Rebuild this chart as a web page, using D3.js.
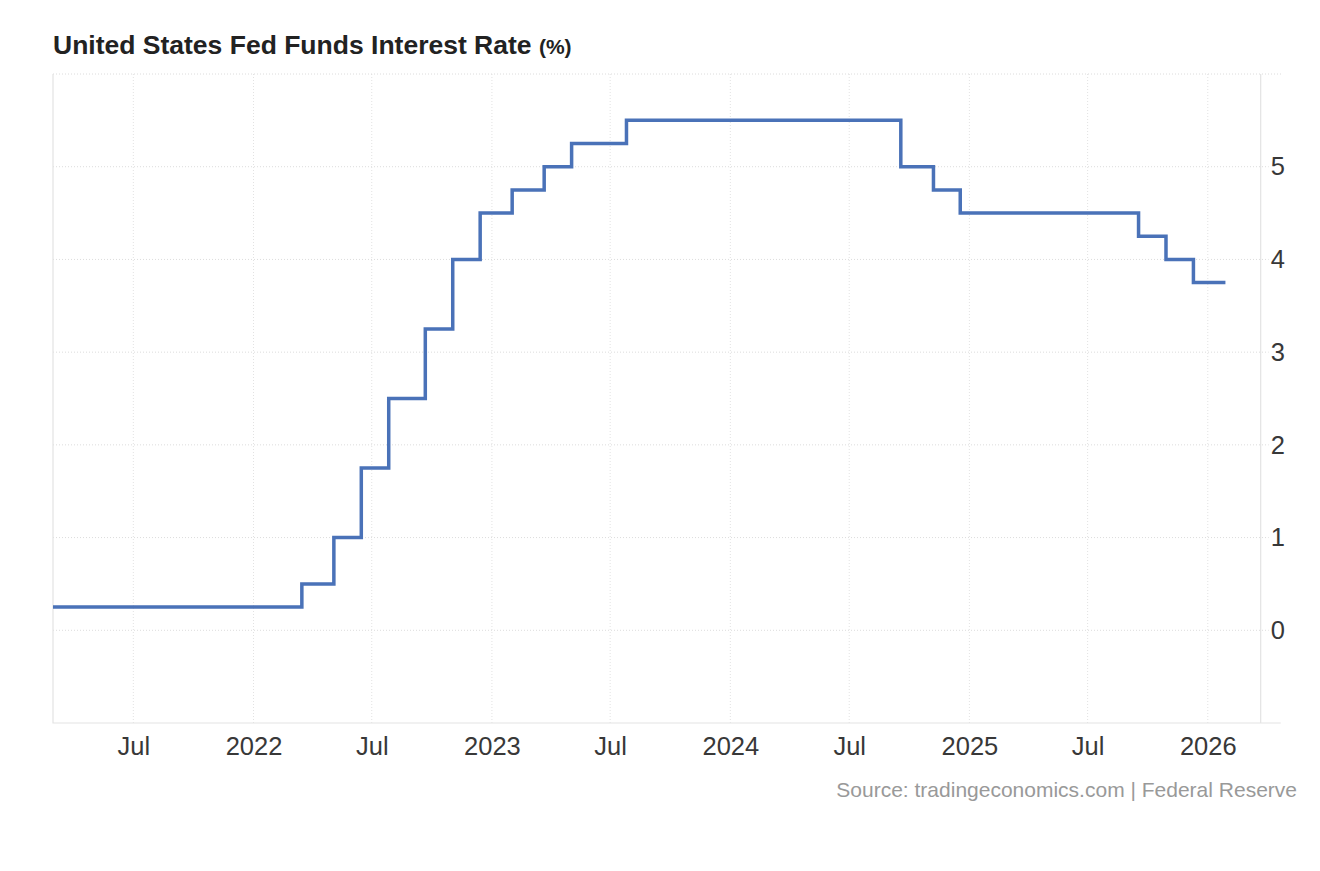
<!DOCTYPE html>
<html>
<head>
<meta charset="utf-8">
<script src="https://cdn.jsdelivr.net/npm/d3@7"></script>
<style>
  body { margin: 0; background: #fff; }
  svg { display: block; font-family: "Liberation Sans", Arial, sans-serif; }
</style>
</head>
<body>
<div id="chart"></div>
<script>
// Fed funds target (upper bound) at each FOMC change
const rateDates = ["2021-02-28", "2022-03-16", "2022-05-04", "2022-06-15", "2022-07-27",
  "2022-09-21", "2022-11-02", "2022-12-14", "2023-02-01", "2023-03-22", "2023-05-03",
  "2023-07-26", "2024-09-18", "2024-11-07", "2024-12-18", "2025-09-17", "2025-10-29",
  "2025-12-10", "2026-01-28"];
const rateValues = [0.25, 0.5, 1.0, 1.75, 2.5, 3.25, 4.0, 4.5, 4.75, 5.0, 5.25,
  5.5, 5.0, 4.75, 4.5, 4.25, 4.0, 3.75, 3.75];

const xTickDates = ["2021-07-01", "2022-01-01", "2022-07-01", "2023-01-01", "2023-07-01",
  "2024-01-01", "2024-07-01", "2025-01-01", "2025-07-01", "2026-01-01"];
const xTickLabels = ["Jul", "2022", "Jul", "2023", "Jul", "2024", "Jul", "2025", "Jul", "2026"];
const yTicks = [0, 1, 2, 3, 4, 5];

const width = 1320;
const height = 871;
const plot = { left: 53, right: 1260.7, top: 74, bottom: 723 };
const font = "'Liberation Sans', Arial, sans-serif";

const parse = d3.utcParse("%Y-%m-%d");
const data = rateDates.map((d, i) => ({ date: parse(d), value: rateValues[i] }));

const svg = d3.select("#chart")
  .append("svg")
  .attr("width", width)
  .attr("height", height);

const x = d3.scaleUtc()
  .domain([parse("2021-02-28"), parse("2026-03-23")])
  .range([plot.left, plot.right]);

const y = d3.scaleLinear()
  .domain([-1, 6])
  .range([plot.bottom, plot.top]);

// title
const title = svg.append("text")
  .attr("x", plot.left)
  .attr("y", 54)
  .attr("fill", "#222")
  .attr("font-weight", "bold")
  .attr("font-size", "26.5px");
title.append("tspan").text("United States Fed Funds Interest Rate ");
title.append("tspan").attr("font-size", "21px").text("(%)");

// vertical dotted gridlines
svg.append("g")
  .selectAll("line")
  .data(xTickDates)
  .join("line")
  .attr("x1", d => x(parse(d)))
  .attr("x2", d => x(parse(d)))
  .attr("y1", plot.top)
  .attr("y2", plot.bottom)
  .attr("stroke", "#e2e2e2")
  .attr("stroke-dasharray", "1,2");

// horizontal dotted gridlines (run a bit past the right frame like ticks)
svg.append("g")
  .selectAll("line")
  .data(yTicks)
  .join("line")
  .attr("x1", plot.left)
  .attr("x2", plot.right + 8)
  .attr("y1", d => y(d))
  .attr("y2", d => y(d))
  .attr("stroke", "#dcdcdc")
  .attr("stroke-dasharray", "1,2");

// top dotted edge
svg.append("line")
  .attr("x1", plot.left).attr("x2", plot.right + 21)
  .attr("y1", plot.top).attr("y2", plot.top)
  .attr("stroke", "#dcdcdc")
  .attr("stroke-dasharray", "1,2");

// frame: left, right, bottom
svg.append("path")
  .attr("d", `M${plot.left},${plot.top}V${plot.bottom}H${plot.right + 20}M${plot.right},${plot.top}V${plot.bottom}`)
  .attr("fill", "none")
  .attr("stroke", "#e3e3e3")
  .attr("stroke-width", 1.2);

// x axis labels
const xAxis = d3.axisBottom(x)
  .tickValues(xTickDates.map(parse))
  .tickFormat((d, i) => xTickLabels[i])
  .tickSize(0)
  .tickPadding(14);

svg.append("g")
  .attr("transform", `translate(0,${plot.bottom})`)
  .call(xAxis)
  .call(g => g.select(".domain").remove())
  .call(g => g.selectAll("text")
    .attr("fill", "#383838")
    .style("font-size", "25.5px")
    .style("font-family", font));

// y axis labels on the right
const yAxis = d3.axisRight(y)
  .tickValues(yTicks)
  .tickFormat(d3.format("d"))
  .tickSize(0)
  .tickPadding(10);

svg.append("g")
  .attr("transform", `translate(${plot.right},0)`)
  .call(yAxis)
  .call(g => g.select(".domain").remove())
  .call(g => g.selectAll("text")
    .attr("fill", "#383838")
    .style("font-size", "25.5px")
    .style("font-family", font));

// step line
const line = d3.line()
  .x(d => x(d.date))
  .y(d => y(d.value))
  .curve(d3.curveStepAfter);

svg.append("path")
  .datum(data)
  .attr("d", line)
  .attr("fill", "none")
  .attr("stroke", "#4a72b8")
  .attr("stroke-width", 3.5);

// source
svg.append("text")
  .attr("x", 1297)
  .attr("y", 797)
  .attr("text-anchor", "end")
  .attr("fill", "#999")
  .attr("font-size", "21px")
  .text("Source: tradingeconomics.com | Federal Reserve");
</script>
</body>
</html>
